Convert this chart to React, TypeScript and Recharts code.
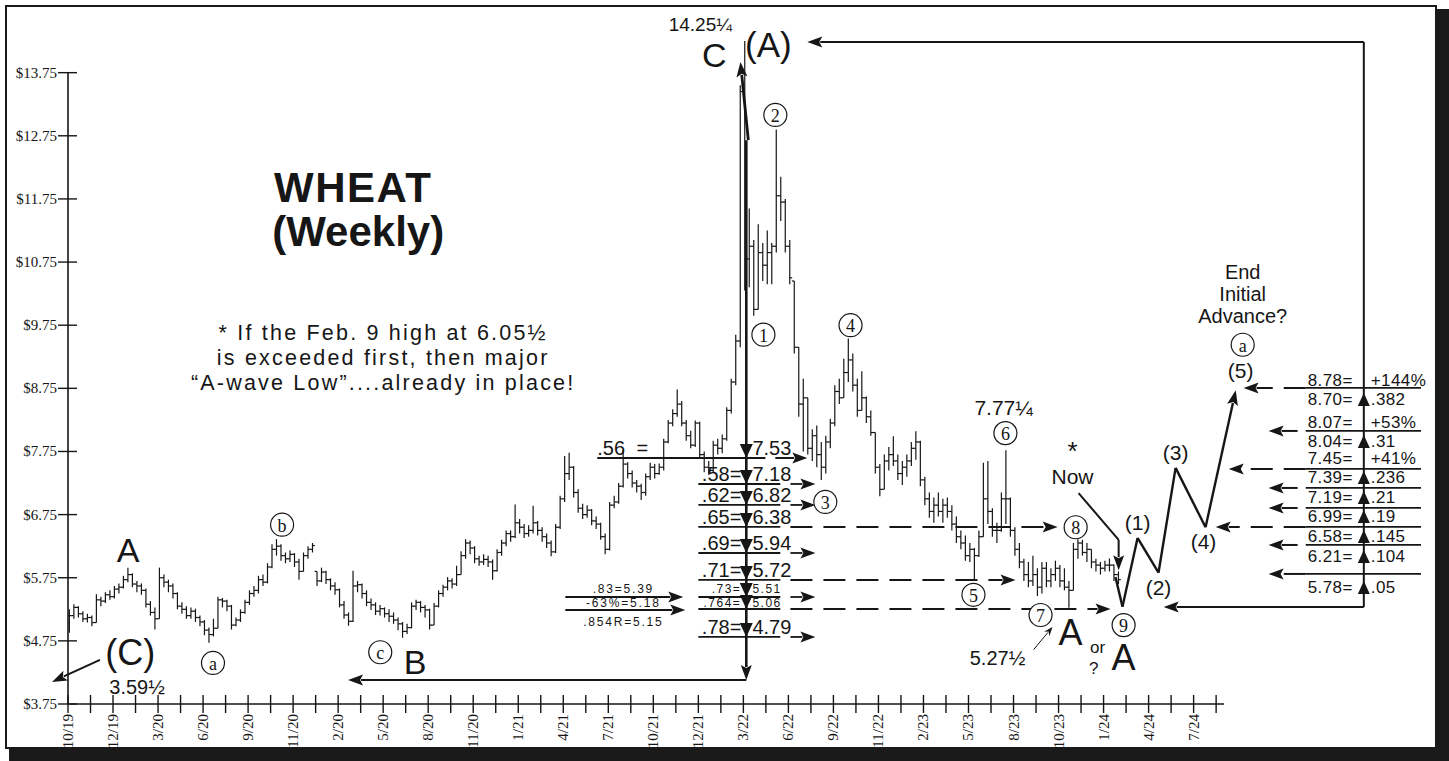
import { ComposedChart, Bar, XAxis, YAxis, ReferenceLine, ReferenceDot } from "recharts";

const SANS = '"Liberation Sans", Arial, Helvetica, sans-serif';
const SERIF = '"Liberation Serif", "Times New Roman", serif';
const INK = "#161616";

// weekly bars: [high, low, close]
const BARS_2019_20 = [
  [5.25, 4.88, 5.15], [5.33, 5.1, 5.28], [5.3, 5.12, 5.18], [5.22, 5.05, 5.1], [5.18, 5.04, 5.12],
  [5.15, 4.98, 5.04], [5.49, 5.04, 5.4], [5.45, 5.3, 5.38], [5.52, 5.35, 5.48], [5.55, 5.4, 5.45],
  [5.62, 5.42, 5.57], [5.66, 5.5, 5.6], [5.78, 5.58, 5.72], [5.91, 5.68, 5.8], [5.82, 5.6, 5.65],
  [5.7, 5.52, 5.62], [5.66, 5.48, 5.55], [5.58, 5.28, 5.33], [5.38, 5.15, 5.2], [5.28, 4.93, 5.1],
  [5.91, 5.1, 5.75], [5.8, 5.6, 5.68], [5.72, 5.52, 5.62], [5.66, 5.42, 5.5], [5.52, 5.25, 5.3],
  [5.36, 5.18, 5.25], [5.3, 5.1, 5.15], [5.28, 5.1, 5.22], [5.26, 5.05, 5.12], [5.15, 4.98, 5.05],
  [5.08, 4.84, 4.92], [4.96, 4.72, 4.85], [5.1, 4.82, 4.95], [5.45, 4.95, 5.4], [5.43, 5.28, 5.38],
  [5.4, 5.22, 5.3], [5.32, 4.93, 5.0], [5.12, 4.98, 5.08], [5.25, 5.05, 5.2], [5.4, 5.18, 5.36],
  [5.55, 5.32, 5.5], [5.62, 5.45, 5.55], [5.78, 5.5, 5.72], [5.8, 5.62, 5.68], [5.98, 5.66, 5.92],
  [6.28, 5.9, 6.2], [6.36, 6.1, 6.25], [6.28, 6.02, 6.1], [6.15, 5.98, 6.05], [6.18, 6.0, 6.12],
  [6.14, 5.92, 6.0], [6.05, 5.72, 5.85], [6.15, 5.85, 6.1], [6.25, 6.05, 6.2], [6.3, 6.15, 6.26],
];
const BARS_2020_21 = [
  [5.85, 5.62, 5.7], [5.91, 5.68, 5.84], [5.86, 5.65, 5.72], [5.74, 5.55, 5.62], [5.68, 5.48, 5.56],
  [5.58, 5.28, 5.32], [5.38, 5.1, 5.16], [5.2, 4.99, 5.06], [5.86, 5.05, 5.62], [5.7, 5.52, 5.64],
  [5.66, 5.42, 5.5], [5.55, 5.3, 5.36], [5.42, 5.24, 5.32], [5.36, 5.16, 5.22], [5.32, 5.15, 5.26],
  [5.28, 5.12, 5.18], [5.25, 5.05, 5.14], [5.2, 5.02, 5.08], [5.12, 4.92, 5.02], [5.05, 4.8, 4.9],
  [5.02, 4.86, 4.96], [5.36, 4.95, 5.3], [5.4, 5.24, 5.36], [5.38, 5.2, 5.28], [5.32, 5.12, 5.24],
  [5.26, 4.93, 5.0], [5.35, 5.0, 5.3], [5.55, 5.28, 5.5], [5.64, 5.45, 5.6], [5.76, 5.55, 5.7],
  [5.74, 5.58, 5.65], [5.94, 5.62, 5.8], [6.17, 5.8, 6.1], [6.36, 6.05, 6.3], [6.34, 6.12, 6.22],
  [6.25, 5.98, 6.05], [6.1, 5.94, 6.0], [6.12, 5.95, 6.04], [6.1, 5.92, 6.0], [6.04, 5.72, 5.86],
  [6.2, 5.85, 6.15], [6.35, 6.1, 6.3], [6.5, 6.25, 6.45], [6.5, 6.32, 6.4], [6.91, 6.38, 6.62],
  [6.68, 6.45, 6.55], [6.6, 6.38, 6.45], [6.58, 6.4, 6.5], [6.89, 6.45, 6.62], [6.65, 6.42, 6.5],
  [6.55, 6.32, 6.4], [6.45, 6.22, 6.3], [6.34, 6.09, 6.16], [6.6, 6.14, 6.55], [7.05, 6.52, 7.0],
  [7.68, 6.95, 7.4],
];
const BARS_2021_22 = [
  [7.73, 7.3, 7.5], [7.52, 7.02, 7.1], [7.15, 6.78, 6.85], [6.92, 6.68, 6.75], [6.9, 6.7, 6.82],
  [6.84, 6.58, 6.65], [6.72, 6.52, 6.6], [6.62, 6.35, 6.4], [6.45, 6.12, 6.2], [6.95, 6.18, 6.9],
  [7.05, 6.85, 6.95], [7.25, 6.92, 7.2], [7.78, 7.18, 7.55], [7.58, 7.32, 7.4], [7.45, 7.18, 7.25],
  [7.3, 7.1, 7.2], [7.24, 6.98, 7.1], [7.4, 7.05, 7.35], [7.57, 7.3, 7.5], [7.55, 7.32, 7.4],
  [7.56, 7.38, 7.5], [7.95, 7.45, 7.9], [8.25, 7.88, 8.2], [8.42, 8.15, 8.35], [8.73, 8.3, 8.5],
  [8.55, 8.15, 8.2], [8.25, 7.92, 8.0], [8.08, 7.8, 7.85], [8.24, 7.82, 8.2], [8.22, 7.65, 7.7],
  [7.75, 7.42, 7.5], [7.6, 7.38, 7.45], [7.92, 7.42, 7.85], [7.95, 7.7, 7.8], [8.02, 7.72, 7.95],
  [8.45, 7.92, 8.4], [8.9, 8.35, 8.85], [9.6, 8.8, 9.5], [13.55, 9.4, 13.45], [14.25, 10.3, 10.8],
  [11.6, 10.35, 11.0], [11.1, 9.9, 10.0], [11.35, 10.0, 10.9], [11.05, 10.45, 10.7], [11.25, 10.4, 10.9],
  [11.05, 10.4, 11.0], [12.85, 10.9, 11.8], [12.1, 11.4, 11.7], [11.75, 10.9, 11.0], [11.1, 10.4, 10.5],
];
const BARS_2022_24 = [
  [10.45, 9.3, 9.4], [9.4, 8.3, 8.5], [8.9, 7.75, 8.6], [8.6, 7.7, 7.8], [8.1, 7.6, 8.0],
  [8.16, 7.5, 7.7], [7.9, 7.3, 7.5], [8.0, 7.4, 7.9], [8.27, 7.8, 8.2], [8.8, 8.15, 8.7],
  [8.9, 8.5, 8.6], [9.22, 8.6, 9.0], [9.54, 8.85, 9.2], [9.3, 8.7, 8.8], [8.9, 8.3, 8.4],
  [9.02, 8.4, 8.6], [8.62, 8.2, 8.3], [8.4, 8.0, 8.05], [8.05, 7.4, 7.5], [7.55, 7.04, 7.15],
  [7.7, 7.15, 7.6], [7.82, 7.45, 7.7], [7.99, 7.52, 7.6], [7.7, 7.3, 7.4], [7.6, 7.22, 7.5],
  [7.7, 7.35, 7.6], [7.9, 7.52, 7.8], [8.07, 7.62, 7.9], [7.92, 7.2, 7.3], [7.35, 6.9, 7.0],
  [7.1, 6.7, 6.8], [7.02, 6.62, 6.9], [7.1, 6.72, 6.8], [7.0, 6.62, 6.9], [7.02, 6.7, 6.8],
  [6.9, 6.5, 6.6], [6.72, 6.3, 6.4], [6.5, 6.2, 6.3], [6.42, 6.02, 6.1], [6.3, 6.0, 6.2],
  [6.22, 5.72, 6.1], [6.5, 6.08, 6.4], [7.57, 6.4, 7.0], [7.6, 6.6, 6.8], [6.85, 6.4, 6.5],
  [6.62, 6.3, 6.5], [7.1, 6.48, 7.0], [7.77, 6.6, 7.0], [7.02, 6.4, 6.5], [6.55, 6.1, 6.2],
  [6.3, 5.9, 6.0], [6.05, 5.7, 5.8], [6.0, 5.6, 5.7], [6.1, 5.62, 5.8], [5.9, 5.46, 5.6],
  [6.0, 5.5, 5.9], [6.0, 5.6, 5.7], [5.9, 5.6, 5.8], [6.02, 5.7, 5.9], [5.95, 5.6, 5.7],
  [5.9, 5.55, 5.6], [5.7, 5.275, 5.55], [6.3, 5.55, 6.2], [6.36, 6.05, 6.3], [6.35, 6.1, 6.15],
  [6.3, 6.0, 6.2], [6.2, 5.9, 6.0], [6.05, 5.85, 5.95], [6.0, 5.8, 5.9], [6.02, 5.85, 5.95],
  [6.055, 5.85, 5.95], [5.96, 5.7, 5.8], [5.85, 5.65, 5.72],
];

const X_LABELS = [
  "10/19", "12/19", "3/20", "6/20", "9/20", "11/20", "2/20", "5/20", "8/20", "11/20", "1/21", "4/21", "7/21",
  "10/21", "12/21", "3/22", "6/22", "9/22", "11/22", "2/23", "5/23", "8/23", "10/23", "1/24", "4/24", "7/24",
];
const Y_TICKS = [3.75, 4.75, 5.75, 6.75, 7.75, 8.75, 9.75, 10.75, 11.75, 12.75, 13.75];

// annotations: x in axis-tick units, y in dollars
const NOTES = [
  { t: "14.25¼", x: 28.09, y: 14.51, size: 19 },
  { t: "C", x: 28.71, y: 14.03, size: 34 },
  { t: "(A)", x: 31.11, y: 14.19, size: 35 },
  { t: "WHEAT", x: 12.67, y: 11.93, size: 42, bold: true, ls: 1.5 },
  { t: "(Weekly)", x: 12.89, y: 11.24, size: 42, bold: true },
  { t: "* If the Feb. 9 high at 6.05½", x: 14.0, y: 9.627, size: 21.5, ls: 2.2 },
  { t: "is exceeded first, then major", x: 14.0, y: 9.23, size: 21.5, ls: 2.2 },
  { t: "“A-wave Low”....already in place!", x: 14.0, y: 8.834, size: 21.5, ls: 2.2 },
  { t: "A", x: 2.67, y: 6.19, size: 34 },
  { t: "(C)", x: 2.76, y: 4.56, size: 36 },
  { t: "3.59½", x: 3.07, y: 4.02, size: 20 },
  { t: "B", x: 15.42, y: 4.42, size: 34 },
  { t: "7.77¼", x: 41.56, y: 8.44, size: 21 },
  { t: "A", x: 44.53, y: 4.89, size: 36 },
  { t: "or", x: 45.73, y: 4.65, size: 17 },
  { t: "?", x: 45.56, y: 4.32, size: 17 },
  { t: "A", x: 46.89, y: 4.48, size: 36 },
  { t: "5.27½", x: 41.29, y: 4.48, size: 20 },
  { t: "*", x: 44.62, y: 7.75, size: 26 },
  { t: "Now", x: 44.62, y: 7.35, size: 21 },
  { t: "(1)", x: 47.51, y: 6.62, size: 21 },
  { t: "(2)", x: 48.44, y: 5.59, size: 21 },
  { t: "(3)", x: 49.2, y: 7.74, size: 21 },
  { t: "(4)", x: 50.44, y: 6.32, size: 21 },
  { t: "(5)", x: 52.09, y: 9.04, size: 21 },
  { t: "End", x: 52.18, y: 10.6, size: 20 },
  { t: "Initial", x: 52.18, y: 10.24, size: 20 },
  { t: "Advance?", x: 52.18, y: 9.89, size: 20 },
];

const CIRCLED = [
  { t: "a", x: 6.44, y: 4.4 }, { t: "b", x: 9.51, y: 6.59 }, { t: "c", x: 13.87, y: 4.57 },
  { t: "1", x: 30.89, y: 9.6 }, { t: "2", x: 31.42, y: 13.08 }, { t: "3", x: 33.64, y: 6.95 },
  { t: "4", x: 34.76, y: 9.75 }, { t: "5", x: 40.22, y: 5.48 }, { t: "6", x: 41.64, y: 8.04 },
  { t: "7", x: 43.2, y: 5.16 }, { t: "8", x: 44.76, y: 6.55 }, { t: "9", x: 46.89, y: 5.0 },
  { t: "a", x: 52.18, y: 9.44 },
];

const ARROWS = [
  { from: [30.22, 12.68], to: [29.87, 13.92], w: 2.8 },
  { from: [30.13, 12.68], to: [30.13, 4.13], w: 2.6 },
  { from: [30.13, 4.13], to: [12.44, 4.13], w: 2 },
  { from: [1.42, 4.45], to: [-0.71, 4.1], w: 2 },
  { from: [57.56, 14.237], to: [32.84, 14.237], w: 2 },
  { from: [57.56, 5.287], to: [57.56, 14.237], w: 2, plain: true },
  { from: [57.56, 5.287], to: [48.67, 5.287], w: 2 },
  { from: [44.89, 7.09], to: [46.67, 6.35], w: 2, plain: true },
  { from: [46.67, 6.35], to: [46.67, 5.87], w: 2 },
  { from: [42.89, 4.61], to: [43.73, 4.97], w: 1, small: true },
  // .56 row
  { from: [23.51, 7.647], to: [30.98, 7.647], w: 2, plain: true },
  { from: [31.42, 7.647], to: [32.84, 7.647], w: 2 },
  // small left group
  { from: [22.09, 5.445], to: [27.33, 5.445], w: 1.8 },
  { from: [22.09, 5.239], to: [27.42, 5.239], w: 1.8 },
  // axes
  { from: [0, 3.75], to: [51.35, 3.75], w: 1.6, plain: true },
  { from: [0, 3.75], to: [0, 13.75], w: 1.6, plain: true },
];

// projected wave path (1)-(5)
const PROJECTION = [[46.53, 5.76], [46.84, 5.29], [47.51, 6.38], [48.44, 5.83], [49.2, 7.49], [50.53, 6.55], [51.87, 8.72]];

// retracement ladder below the 14.25 high
const LADDER = [
  { ratio: ".56", value: "7.53", level: 7.647 },
  { ratio: ".58=", value: "7.18", level: 7.235, reach: 33.2 },
  { ratio: ".62=", value: "6.82", level: 6.903, reach: 33.2 },
  { ratio: ".65=", value: "6.38", level: 6.554, reach: 43.96, dashed: true },
  { ratio: ".69=", value: "5.94", level: 6.142, reach: 33.2 },
  { ratio: ".71=", value: "5.72", level: 5.715, reach: 42.09, dashed: true },
  { ratio: ".73=", value: "5.51", level: 5.445, reach: 33.2, small: true, dy: -8 },
  { ratio: ".764=", value: "5.06", level: 5.255, reach: 46.31, dashed: true, small: true, dy: -6 },
  { ratio: ".78=", value: "4.79", level: 4.812, reach: 33.2 },
];
const SIDE_NOTES = [
  { t: ".83=5.39", level: 5.445, dy: -8 },
  { t: "-63%=5.18", level: 5.239, dy: -7 },
  { t: ".854R=5.15", level: 5.239, dy: 12 },
];

// advance targets on the right
const TARGETS = [
  { left: "8.78=", right: "+144%", level: 8.867 },
  { left: "8.70=", right: ".382", level: 8.566, tri: true },
  { left: "8.07=", right: "+53%", level: 8.202 },
  { left: "8.04=", right: ".31", level: 7.901, tri: true },
  { left: "7.45=", right: "+41%", level: 7.631 },
  { left: "7.39=", right: ".236", level: 7.33, tri: true },
  { left: "7.19=", right: ".21", level: 7.014, tri: true },
  { left: "6.99=", right: ".19", level: 6.713, tri: true },
  { left: "6.58=", right: ".145", level: 6.396, tri: true },
  { left: "6.21=", right: ".104", level: 6.079, tri: true },
  { left: "5.78=", right: ".05", level: 5.588, tri: true },
];
const TARGET_LINES = [
  { level: 8.756, tip: 52.22, dashed: true },
  { level: 8.075, tip: 53.33 },
  { level: 7.473, tip: 51.56, dashed: true },
  { level: 7.172, tip: 53.33 },
  { level: 6.855, tip: 53.33 },
  { level: 6.554, tip: 50.98, dashed: true },
  { level: 6.269, tip: 53.33 },
  { level: 5.81, tip: 53.33, dashed: true },
];

const WEEK_STEP = 0.2;
const FIRST_WEEK = 0.05;
const ALL_BARS = [...BARS_2019_20, ...BARS_2020_21, ...BARS_2021_22, ...BARS_2022_24];
const ohlc = ALL_BARS.map(([high, low, close], i) => {
  const prev = i > 0 ? ALL_BARS[i - 1][2] : close;
  return { week: FIRST_WEEK + i * WEEK_STEP, span: [low, high], high, low, close, open: Math.min(high, Math.max(low, prev)) };
});

const ladderNotes = LADDER.flatMap((r) =>
  r.ratio === ".56"
    ? [
        { t: ".56", x: 23.51, y: r.level, size: 20, anchor: "start", dy: -10 },
        { t: "=", x: 25.51, y: r.level, size: 20, dy: -10 },
        { t: r.value, x: 30.4, y: r.level, size: 20, anchor: "start", dy: -10 },
      ]
    : [
        { t: r.ratio, x: 29.91, y: r.level, size: r.small ? 12 : 20, anchor: "end", dy: r.dy ?? -10, ls: r.small ? 1.5 : 0 },
        { t: r.value, x: 30.4, y: r.level, size: r.small ? 12 : 20, anchor: "start", dy: r.dy ?? -10, ls: r.small ? 1.5 : 0 },
      ]
);
const sideNotes = SIDE_NOTES.map((s) => ({ t: s.t, x: 24.67, y: s.level, size: 12, dy: s.dy, ls: 1.8 }));
const targetNotes = TARGETS.flatMap((r) => [
  { t: r.left, x: 57.07, y: r.level, size: 17, anchor: "end", ls: 0.4 },
  { t: r.right, x: 57.87, y: r.level, size: 17, anchor: "start", ls: 0.4 },
]);
const ladderArrows = LADDER.filter((r) => r.reach).flatMap((r) => [
  { from: [28.0, r.level], to: [31.64, r.level], w: 1.8, plain: true },
  { from: [32.09, r.level], to: [r.reach, r.level], w: r.dashed ? 2 : 1.8, dashed: r.dashed },
]);
const targetArrows = TARGET_LINES.flatMap((l) => [
  { from: [54.98, l.level], to: [60.1, l.level], w: 1.8, plain: true },
  { from: [l.dashed ? 54.98 : 54.62, l.level], to: [l.tip, l.level], w: 2, dashed: l.dashed },
]);
const projArrows = PROJECTION.slice(1).map((p, i) => ({
  from: PROJECTION[i], to: p, w: 2.4, plain: i < PROJECTION.length - 2,
}));

function OhlcBar(props: any) {
  const { x, y, width, height, payload } = props;
  if (x == null || y == null || !payload) return null;
  const top = Math.min(y, y + height);
  const h = Math.abs(height);
  const cx = x + width / 2;
  const span = payload.high - payload.low || 1;
  const at = (v: number) => top + ((payload.high - v) / span) * h;
  return (
    <g stroke={INK} strokeWidth={1.2}>
      <line x1={cx} x2={cx} y1={top} y2={top + Math.max(h, 1)} />
      <line x1={cx - 2.4} x2={cx} y1={at(payload.open)} y2={at(payload.open)} />
      <line x1={cx} x2={cx + 2.4} y1={at(payload.close)} y2={at(payload.close)} />
    </g>
  );
}

function ArrowShape(props: any) {
  const { x1, y1, x2, y2, a } = props;
  if ([x1, y1, x2, y2].some((v) => v == null || Number.isNaN(v))) return null;
  const len = a.small ? 9 : 15;
  const half = a.small ? 3.5 : 5.5;
  const ang = Math.atan2(y2 - y1, x2 - x1);
  const bx = x2 - len * Math.cos(ang);
  const by = y2 - len * Math.sin(ang);
  const nx = -Math.sin(ang) * half;
  const ny = Math.cos(ang) * half;
  return (
    <g>
      <line
        x1={x1} y1={y1} x2={a.plain ? x2 : bx + 2 * Math.cos(ang)} y2={a.plain ? y2 : by + 2 * Math.sin(ang)}
        stroke={INK} strokeWidth={a.w} strokeDasharray={a.dashed ? "22 11" : undefined}
      />
      {!a.plain && <polygon points={`${x2},${y2} ${bx + nx},${by + ny} ${bx + 3 * Math.cos(ang)},${by + 3 * Math.sin(ang)} ${bx - nx},${by - ny}`} fill={INK} />}
    </g>
  );
}

function NoteText({ cx, cy, n }: any) {
  return (
    <text
      x={cx} y={cy + (n.dy ?? 0)} textAnchor={n.anchor ?? "middle"} dominantBaseline="central"
      fontFamily={SANS} fontSize={n.size} fontWeight={n.bold ? 700 : 400} letterSpacing={n.ls ?? 0} fill={INK}
    >
      {n.t}
    </text>
  );
}

function Circled({ cx, cy, t }: any) {
  return (
    <g>
      <circle cx={cx} cy={cy} r={11.5} fill="#fff" stroke={INK} strokeWidth={1.2} />
      <text x={cx} y={cy + 1} textAnchor="middle" dominantBaseline="central" fontFamily={SERIF} fontSize={18} fill={INK}>
        {t}
      </text>
    </g>
  );
}

function Triangle({ cx, cy, up }: any) {
  const pts = up
    ? `${cx},${cy - 7} ${cx - 6},${cy + 6} ${cx + 6},${cy + 6}`
    : `${cx},${cy} ${cx - 6.5},${cy - 14} ${cx + 6.5},${cy - 14}`;
  return <polygon points={pts} fill={INK} />;
}

function YTick({ x, y, payload }: any) {
  return (
    <g>
      <line x1={x - 10} x2={x + 9} y1={y} y2={y} stroke={INK} strokeWidth={1.4} />
      <text x={x - 11} y={y} textAnchor="end" dominantBaseline="central" fontFamily={SERIF} fontSize={15} fill={INK}>
        {"$" + payload.value.toFixed(2)}
      </text>
    </g>
  );
}

function XTick({ x, y, payload }: any) {
  const label = payload.value % 2 === 0 ? X_LABELS[payload.value / 2] : null;
  return (
    <g>
      <line x1={x} x2={x} y1={y - 9} y2={y + 9} stroke={INK} strokeWidth={1.4} />
      {label && (
        <text
          x={x} y={y + 10} transform={`rotate(-90 ${x} ${y + 10})`} textAnchor="end" dominantBaseline="central"
          fontFamily={SERIF} fontSize={15} fill={INK}
        >
          {label}
        </text>
      )}
    </g>
  );
}

const X_TICKS = Array.from({ length: 52 }, (_, i) => i);

export default function App() {
  const arrows = [...ARROWS, ...ladderArrows, ...targetArrows, ...projArrows];
  const notes = [...NOTES, ...ladderNotes, ...sideNotes, ...targetNotes];
  return (
    <div style={{ position: "absolute", left: 0, top: 0, width: 1449, height: 761, background: "#fff", overflow: "hidden" }}>
      <div style={{ position: "absolute", left: 5, top: 5, width: 1432, height: 744, border: "2px solid #1a1a1a", boxSizing: "border-box" }} />
      <div style={{ position: "absolute", left: 1437, top: 9, width: 12, height: 752, background: "#1a1a1a" }} />
      <div style={{ position: "absolute", left: 9, top: 749, width: 1440, height: 12, background: "#1a1a1a" }} />
      <div style={{ position: "absolute", left: 0, top: 0 }}>
        <ComposedChart width={1449} height={761} data={ohlc} margin={{ top: 19, right: 19, bottom: 6, left: 8 }}>
          <XAxis
            dataKey="week" type="number" domain={[0, 60.5]} allowDataOverflow ticks={X_TICKS} interval={0}
            axisLine={false} tickLine={false} tickSize={0} tickMargin={0} height={51} tick={<XTick />}
          />
          <YAxis
            type="number" domain={[3.75, 14.6]} allowDataOverflow ticks={Y_TICKS} interval={0}
            axisLine={false} tickLine={false} tickSize={0} tickMargin={0} width={60} tick={<YTick />}
          />
          <Bar dataKey="span" barSize={3} shape={OhlcBar} isAnimationActive={false} />
          {arrows.map((a, i) => (
            <ReferenceLine
              key={`a${i}`} ifOverflow="visible"
              segment={[{ x: a.from[0], y: a.from[1] }, { x: a.to[0], y: a.to[1] }]}
              shape={(p: any) => <ArrowShape {...p} a={a} />}
            />
          ))}
          {LADDER.map((r, i) => (
            <ReferenceDot key={`d${i}`} x={30.13} y={r.level} r={1} ifOverflow="visible" shape={(p: any) => <Triangle cx={p.cx} cy={p.cy} />} />
          ))}
          {TARGETS.filter((r) => r.tri).map((r, i) => (
            <ReferenceDot key={`u${i}`} x={57.56} y={r.level} r={1} ifOverflow="visible" shape={(p: any) => <Triangle cx={p.cx} cy={p.cy} up />} />
          ))}
          {CIRCLED.map((c, i) => (
            <ReferenceDot key={`c${i}`} x={c.x} y={c.y} r={1} ifOverflow="visible" shape={(p: any) => <Circled cx={p.cx} cy={p.cy} t={c.t} />} />
          ))}
          {notes.map((n, i) => (
            <ReferenceDot key={`n${i}`} x={n.x} y={n.y} r={1} ifOverflow="visible" shape={(p: any) => <NoteText cx={p.cx} cy={p.cy} n={n} />} />
          ))}
        </ComposedChart>
      </div>
    </div>
  );
}
